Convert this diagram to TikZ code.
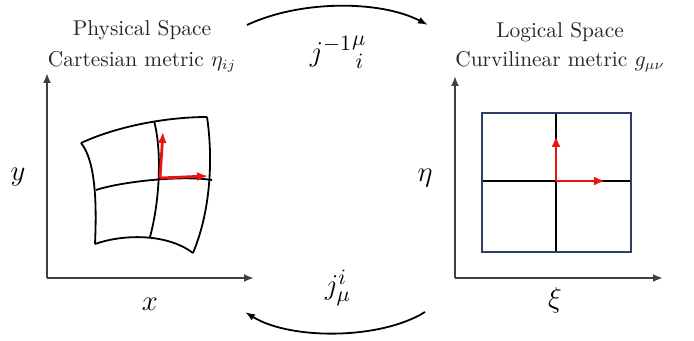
\documentclass[tikz,border=0pt]{standalone}
\usetikzlibrary{arrows.meta}
\definecolor{navy}{RGB}{47,62,105}
\definecolor{vecred}{RGB}{235,20,20}
\begin{document}
\begin{tikzpicture}[x=0.5pt,y=-0.5pt,
  axis/.style={line width=1.1pt,draw=black!75,-{Latex[length=5pt,width=4pt]}},
  mesh/.style={line width=0.9pt,draw=black},
  vec/.style={line width=1.4pt,draw=vecred,-{Latex[length=5.5pt,width=4.5pt]}},
  maparc/.style={line width=0.9pt,-{Latex[length=5pt,width=3.5pt]}},
  title/.style={font=\fontsize{10.7}{13}\selectfont,text=black!85,inner sep=0pt},
  axlabel/.style={font=\fontsize{14}{16}\selectfont,inner sep=0pt},
  maplabel/.style={font=\fontsize{15}{17}\selectfont,inner sep=0pt}]
\useasboundingbox (0,0) rectangle (694,341);
% titles
\node[title] (ps) at (142,30) {Physical Space};
\node[title] (cm) at (142,62) {Cartesian metric $\eta_{ij}$};
\node[title] (ls) at (560,32) {Logical Space};
\node[title] (cu) at (560,62) {Curvilinear metric $g_{\mu\nu}$};
% left axes
\coordinate (lo) at (47,278);
\coordinate (ly) at (47,73);
\coordinate (lx) at (254,278);
\draw[axis] (lo) -- (ly);
\draw[axis] (lo) -- (lx);
\node[axlabel] (ylab) at (18,177) {$y$};
\node[axlabel] (xlab) at (150,304) {$x$};
% right axes
\coordinate (ro) at (455,278);
\coordinate (ry) at (455,76);
\coordinate (rx) at (663,278);
\draw[axis] (ro) -- (ry);
\draw[axis] (ro) -- (rx);
\node[axlabel] (etalab) at (425,178) {$\eta$};
\node[axlabel] (xilab) at (555,300) {$\xi$};
% left mesh
\coordinate (tl) at (81,143);
\coordinate (tr) at (207,117);
\coordinate (br) at (193,253);
\coordinate (bl) at (95,244);
\coordinate (tm) at (154,121);
\coordinate (bm) at (150,237);
\coordinate (lm) at (96,190);
\coordinate (rm) at (212,180);
\coordinate (c) at (160,178);
\draw[mesh] (tl) .. controls (120,125) and (170,117) .. (tr);
\draw[mesh] (tl) .. controls (95,160) and (97,200) .. (bl);
\draw[mesh] (tr) .. controls (212,150) and (213,205) .. (br);
\draw[mesh] (bl) .. controls (120,235) and (165,232) .. (br);
\draw[mesh] (lm) .. controls (120,182) and (180,175) .. (rm);
\draw[mesh] (tm) .. controls (162,150) and (160,200) .. (bm);
\coordinate (cu1) at (163,132);
\coordinate (cr1) at (208,176);
\draw[vec] (c) -- (cu1);
\draw[vec] (c) -- (cr1);
% right grid
\coordinate (b1) at (482,113);
\coordinate (b2) at (631,252);
\coordinate (o) at (556,181);
\draw[line width=0.9pt] (556,113) -- (556,252);
\draw[line width=0.9pt] (482,181) -- (631,181);
\draw[line width=1pt,draw=navy] (b1) rectangle (b2);
\coordinate (ou) at (556,136);
\coordinate (or) at (605,181);
\draw[vec] (o) -- (ou);
\draw[vec] (o) -- (or);
% mapping arcs
\coordinate (a1) at (247,25);
\coordinate (a2) at (428,25);
\coordinate (a3) at (425,312);
\coordinate (a4) at (245,312);
\draw[maparc] (a1) .. controls (300,0) and (380,0) .. (a2);
\draw[maparc] (a3) .. controls (380,340) and (290,340) .. (a4);
\node[maplabel] (jinv) at (338,52) {${j^{-1}}^{\mu}_{\,i}$};
\node[maplabel] (jf) at (338,288) {$j^{i}_{\mu}$};
\end{tikzpicture}
\end{document}
